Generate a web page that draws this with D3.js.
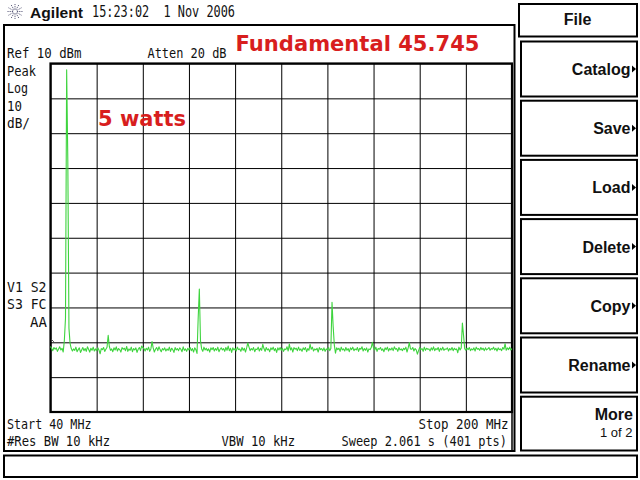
<!DOCTYPE html>
<html><head><meta charset="utf-8">
<script src="https://cdn.jsdelivr.net/npm/d3@7/dist/d3.min.js"></script>
<style>html,body{margin:0;padding:0;background:#fff;}svg{display:block;}</style>
</head><body>
<script>
// ---- data ----
const startMHz = 40, stopMHz = 200, sweepPoints = 401;
const refLevel = 10, dbPerDiv = 10, divisions = 10;
const freqTicks = [40,56,72,88,104,120,136,152,168,184,200];
const levelTicks = [10,0,-10,-20,-30,-40,-50,-60,-70,-80,-90];
// trace amplitude (dBm), 401 points
const traceDbm = [
-71.2,-71.8,-72.4,-71.5,-72.0,-71.6,-72.6,-71.9,-71.3,-72.2,-71.7,-72.8,-69.5,-63.0,8.2,-17.6,-66.0,-70.4,-71.8,-72.5,
-71.9,-72.3,-71.4,-72.7,-72.1,-71.6,-72.9,-72.2,-71.5,-72.4,-71.8,-72.6,-71.3,-72.0,-72.8,-71.7,-72.3,-71.4,-72.5,-71.9,
-72.4,-71.6,-72.2,-73.3,-71.8,-72.1,-71.5,-72.6,-72.0,-71.4,-68.0,-71.2,-72.3,-71.9,-72.7,-71.6,-72.2,-71.3,-72.5,-71.8,
-72.1,-72.8,-71.5,-72.0,-71.7,-72.4,-71.2,-72.6,-71.9,-72.3,-71.4,-72.7,-71.8,-72.2,-71.6,-72.9,-72.0,-71.5,-72.4,-71.1,
-71.5,-71.8,-72.5,-71.7,-72.2,-71.4,-72.6,-71.9,-69.8,-71.6,-72.8,-72.0,-71.5,-72.4,-71.3,-72.1,-72.7,-71.8,-72.2,-71.6,
-72.5,-71.9,-72.3,-71.4,-72.6,-71.7,-72.1,-72.9,-71.5,-72.2,-71.8,-72.4,-71.6,-72.0,-72.7,-71.3,-72.3,-71.9,-72.6,-71.7,
-72.2,-71.5,-72.4,-71.8,-72.8,-71.6,-72.1,-73.2,-63.0,-54.7,-69.5,-71.9,-72.6,-71.4,-72.2,-71.7,-72.4,-71.9,-72.8,-71.6,
-72.1,-71.5,-72.5,-71.8,-72.3,-71.4,-72.7,-72.0,-71.6,-72.2,-71.8,-72.6,-71.5,-72.3,-71.1,-72.4,-71.7,-72.9,-71.6,-72.2,
-71.8,-72.5,-71.4,-72.1,-71.9,-72.6,-71.5,-72.3,-71.7,-72.8,-71.6,-70.2,-71.3,-72.4,-71.8,-72.2,-71.5,-72.7,-71.9,-72.1,
-71.4,-72.5,-71.7,-72.3,-70.6,-71.8,-72.6,-71.5,-72.2,-71.9,-72.7,-71.6,-72.1,-71.4,-72.4,-71.8,-72.9,-71.6,-72.2,-71.5,
-72.3,-71.7,-72.6,-71.9,-72.1,-71.3,-72.5,-70.5,-72.2,-71.6,-72.8,-71.5,-72.0,-71.7,-72.4,-71.4,-72.3,-71.9,-72.6,-71.6,
-72.1,-71.5,-72.7,-71.8,-72.3,-70.6,-72.0,-71.4,-72.5,-71.9,-72.2,-71.7,-72.8,-71.5,-72.1,-71.8,-72.4,-71.6,-72.6,-71.9,
-72.2,-71.5,-72.4,-71.8,-58.5,-65.5,-70.8,-73.1,-71.6,-72.1,-71.7,-72.6,-71.4,-72.2,-71.9,-72.5,-71.5,-72.3,-71.8,-72.7,
-71.6,-72.1,-71.4,-72.4,-71.9,-72.2,-71.5,-72.6,-71.7,-72.0,-71.3,-72.5,-71.8,-72.3,-71.6,-72.8,-71.9,-72.1,-71.5,-70.0,
-71.7,-72.2,-71.4,-72.6,-71.8,-72.0,-71.5,-72.3,-71.9,-72.7,-71.6,-72.1,-71.4,-72.5,-71.8,-72.2,-71.6,-72.4,-71.3,-72.0,
-71.8,-72.6,-71.5,-72.2,-71.9,-72.4,-71.7,-72.1,-71.4,-72.8,-71.6,-70.1,-71.9,-72.0,-71.5,-72.5,-71.8,-72.2,-73.4,-72.4,
-71.5,-72.1,-71.8,-72.6,-71.4,-72.3,-71.7,-72.0,-71.9,-72.5,-71.6,-72.2,-71.3,-72.4,-71.8,-72.1,-71.5,-72.6,-71.7,-72.2,
-71.4,-72.3,-71.9,-72.0,-71.6,-72.5,-71.8,-72.2,-71.5,-72.4,-71.7,-72.1,-71.9,-73.0,-71.4,-72.2,-71.6,-64.5,-68.0,-71.8,
-72.3,-71.7,-72.1,-71.5,-72.4,-71.9,-72.2,-71.6,-72.5,-71.4,-72.0,-71.8,-72.3,-71.5,-72.1,-71.7,-72.4,-71.6,-72.2,-71.9,
-71.5,-72.3,-71.8,-72.0,-71.4,-72.2,-71.7,-72.5,-71.6,-72.1,-71.9,-72.4,-71.5,-72.0,-70.4,-72.3,-71.6,-72.1,-71.4,-72.2,
-71.8
];
const softkeys = ["Catalog","Save","Load","Delete","Copy","Rename"];
const menuTitle = "File";
const moreLabel = ["More","1 of 2"];
const headerBrand = "Agilent";
const headerTime = "15:23:02  1 Nov 2006";
const annoTitle = "Fundamental 45.745";
const annoPower = "5 watts";

// ---- drawing ----
const svg = d3.select("body").append("svg").attr("width",640).attr("height",480);
svg.append("rect").attr("width",640).attr("height",480).attr("fill","#fff");

const mono = "'DejaVu Sans Mono', monospace";
const x = d3.scaleLinear().domain([startMHz, stopMHz]).range([50.5, 512]);
const y = d3.scaleLinear().domain([refLevel, refLevel - dbPerDiv*divisions]).range([63.5, 412]);

function txt(s, px, py, len, opts={}) {
  const t = svg.append("text").attr("x",px).attr("y",py).text(s)
    .attr("font-family", opts.family || mono)
    .attr("font-size", opts.size || 13.5)
    .attr("font-weight", opts.weight || "normal")
    .attr("fill", opts.fill || "#111")
    .attr("text-anchor", opts.anchor || "start");
  if (len) t.attr("textLength", len).attr("lengthAdjust","spacingAndGlyphs");
  t.style("white-space","pre");
  return t;
}

// header logo
const logo = svg.append("g").attr("transform","translate(15,11.5)");
d3.range(12).forEach(k=>{
  const a = k*Math.PI/6;
  logo.append("line").attr("x1",Math.cos(a)*2).attr("y1",Math.sin(a)*2)
    .attr("x2",Math.cos(a)*7.5).attr("y2",Math.sin(a)*7.5)
    .attr("stroke","#5a5a7a").attr("stroke-width",1).attr("stroke-dasharray","1.2,1");
});
txt(headerBrand, 30, 17.5, 53, {family:"'Liberation Sans', Arial, sans-serif", weight:"bold", size:15});
txt(headerTime, 92, 17, 143, {size:15});

// main screen frame
svg.append("rect").attr("x",4).attr("y",25).attr("width",510.5).attr("height",426)
  .attr("fill","none").attr("stroke","#000").attr("stroke-width",2);
svg.append("line").attr("x1",512).attr("x2",512).attr("y1",63).attr("y2",451)
  .attr("stroke","#000").attr("stroke-width",1.5);

// graticule via axes
const gx = svg.append("g").attr("transform","translate(0,412)")
  .call(d3.axisBottom(x).tickValues(freqTicks).tickSize(-(412-63.5)).tickFormat(""));
const gy = svg.append("g").attr("transform","translate(50.5,0)")
  .call(d3.axisLeft(y).tickValues(levelTicks).tickSize(-(512-50.5)).tickFormat(""));
[gx,gy].forEach(g=>{
  g.select(".domain").remove();
  g.selectAll(".tick line").attr("stroke","#000").attr("stroke-width",1);
});
svg.append("rect").attr("x",x(startMHz)).attr("y",y(refLevel))
  .attr("width",x(stopMHz)-x(startMHz)).attr("height",y(refLevel-dbPerDiv*divisions)-y(refLevel))
  .attr("fill","none").attr("stroke","#000").attr("stroke-width",2.2);

// trace
const step = (stopMHz-startMHz)/(sweepPoints-1);
const line = d3.line().x((d,i)=>x(startMHz + i*step)).y(d=>y(d));
svg.append("path").datum(traceDbm).attr("d",line)
  .attr("fill","none").attr("stroke","#3ed43e").attr("stroke-width",1.1).attr("stroke-linejoin","round");
// small marker at trace start
svg.append("path").attr("d","M51,339 L54,342 M51,342 L53,340").attr("stroke","#444").attr("stroke-width",0.8).attr("fill","none");

// annotation texts on screen
txt("Ref 10 dBm", 7, 57.5, 74.5);
txt("Atten 20 dB", 147.5, 57.5, 79);
txt("Peak", 7, 76, 29);
txt("Log", 7, 93, 21);
txt("10", 7, 110.5, 15);
txt("dB/", 7, 128, 23);
txt("V1 S2", 7, 292, 39.5);
txt("S3 FC", 7, 308.5, 39.5);
txt("AA", 30, 327, 17);
txt("Start 40 MHz", 7, 429, 84.5);
txt("Stop 200 MHz", 418.5, 429, 90);
txt("#Res BW 10 kHz", 7, 445.5, 103);
txt("VBW 10 kHz", 221.5, 445.5, 73.5);
txt("Sweep 2.061 s (401 pts)", 341.5, 445.5, 165.5);

// red annotations
txt(annoTitle, 235.5, 50.5, 244, {family:"'DejaVu Sans', sans-serif", weight:"bold", size:22, fill:"#d81e1e"});
txt(annoPower, 98, 125.5, 88, {family:"'DejaVu Sans', sans-serif", weight:"bold", size:22, fill:"#d81e1e"});

// softkeys
const skFont = "'Liberation Sans', Arial, sans-serif";
svg.append("rect").attr("x",519).attr("y",4).attr("width",118).attr("height",32.5)
  .attr("fill","none").attr("stroke","#000").attr("stroke-width",2);
txt(menuTitle, 577.5, 24.5, null, {family:skFont, weight:"bold", size:16, anchor:"middle"});
const pitch = 59.2;
softkeys.forEach((s,k)=>{
  const top = 41.5 + k*pitch;
  svg.append("rect").attr("x",521).attr("y",top).attr("width",116).attr("height",55)
    .attr("fill","none").attr("stroke","#000").attr("stroke-width",2);
  txt(s, 630.5, top+33.5, null, {family:skFont, weight:"bold", size:16, anchor:"end"});
  const cy = top + 27.5;
  svg.append("path").attr("d",`M632,${cy-3.5} L636,${cy} L632,${cy+3.5} Z`).attr("fill","#000");
});
{
  const top = 41.5 + 6*pitch;
  svg.append("rect").attr("x",521).attr("y",top).attr("width",116).attr("height",450.5-top)
    .attr("fill","none").attr("stroke","#000").attr("stroke-width",2);
  txt(moreLabel[0], 633, 420, null, {family:skFont, weight:"bold", size:16, anchor:"end"});
  txt(moreLabel[1], 632.5, 437, null, {family:skFont, size:13, anchor:"end"});
}

// status bar
svg.append("rect").attr("x",4).attr("y",455.5).attr("width",633).attr("height",21.5)
  .attr("fill","none").attr("stroke","#000").attr("stroke-width",2);
</script>
</body></html>
